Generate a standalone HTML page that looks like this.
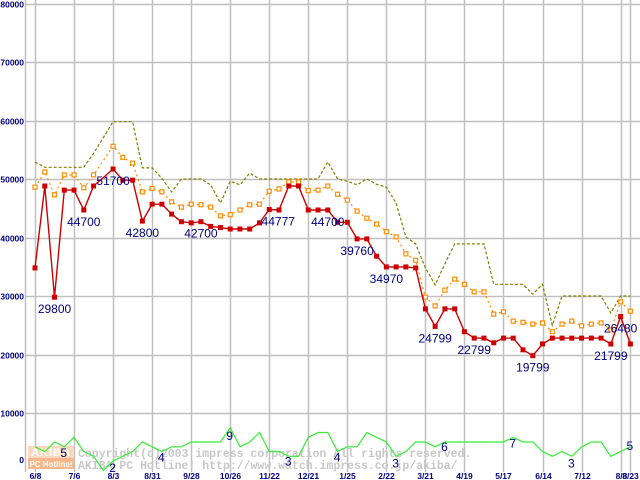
<!DOCTYPE html>
<html><head><meta charset="utf-8"><style>
html,body{margin:0;padding:0;background:#fff;}
svg{display:block;font-family:"Liberation Sans",sans-serif;}
</style></head><body>
<svg id="chart" width="640" height="480" viewBox="0 0 640 480" xmlns="http://www.w3.org/2000/svg">
<rect x="0" y="0" width="640" height="480" fill="#fff"/>
<g id="grid"></g>
<g id="wm">
  <rect x="28" y="446" width="46" height="12" fill="#fbd9bd"/>
  <text x="51" y="456" font-size="11" font-weight="bold" fill="#fff" text-anchor="middle" letter-spacing="1">AKIBA</text>
  <rect x="28" y="458" width="46" height="11" fill="#f8b68a"/>
  <text x="51" y="467" font-size="8" font-weight="bold" fill="#fff" text-anchor="middle">PC Hotline!</text>
  <text x="78" y="457" font-size="11.5" font-family="Liberation Mono,monospace" font-weight="bold" fill="#c8c8c8">Copyright(c)2003 impress corporation All rights reserved.</text>
  <text x="78" y="469" font-size="11.5" font-family="Liberation Mono,monospace" font-weight="bold" fill="#c8c8c8">AKIBA PC Hotline!  http://www.watch.impress.co.jp/akiba/</text>
</g>
<g id="series"></g>
<g id="labels"></g>
</svg>
<script>
const yTicks=[0,10000,20000,30000,40000,50000,60000,70000,80000];
const xTickLabels=["6/8","7/6","8/3","8/31","9/28","10/26","11/22","12/21","1/25","2/22","3/21","4/19","5/17","6/14","7/12","8/8","8/23"];
const xTickIdx=[0,4,8,12,16,20,24,28,32,36,40,44,48,52,56,60,61];
const minPrice=[34800,48800,29800,48100,48100,44700,48800,null,51700,49800,49800,42800,45700,45700,44000,42700,42500,42700,41900,41700,41450,41450,41450,42500,44777,44700,48800,48800,44700,44700,44700,42600,42600,39760,39760,36800,34970,34970,34970,34800,27800,24799,27800,27800,23900,22799,22799,22000,22799,22799,20800,19799,21800,22799,22799,22799,22799,22799,22799,21799,26480,21799];
const avgPrice=[48600,51200,47300,50700,50700,48500,50700,null,55600,53700,52700,47800,48400,47800,46100,45200,45700,45600,45200,43700,43900,44700,45600,45700,47900,48300,49500,49500,48000,48100,48800,47400,46400,44500,43300,42300,41000,40100,37200,36100,29800,28300,31000,32900,32000,30700,30700,26900,27300,25700,25500,25200,25400,23900,25200,25700,24900,25200,25400,24200,29000,27400];
const maxPrice=[52900,52000,52000,52000,52000,52000,54400,null,59800,59800,59800,51900,51900,50100,47800,50000,50000,50000,49000,45900,49600,49000,51000,50000,50000,50000,50000,50000,50000,50000,52900,50000,49600,49000,50000,49100,48600,45900,40100,38900,34800,31900,35500,38900,38900,38900,38900,32000,32000,32000,32000,30300,32000,25000,30000,30000,30000,30000,30000,27100,30000,30000];
const shopCount=[5,4,6,5,7,4,3,0,2,3,4,6,5,4,5,5,6,6,6,6,9,5,6,8,4,4,3,3,7,8,8,4,5,5,8,7,6,3,4,6,6,5,6,6,6,6,6,6,6,7,6,6,4,3,4,3,5,6,6,3,4,5];
const priceLabelIdx=[2,5,8,11,17,24,30,33,36,41,45,51,59,60];
const countLabelIdx=[3,8,13,20,26,31,37,42,49,55,61];
const countLabelDy=[10,11,10,12,9,10,11,9,10,11,3];

const NS="http://www.w3.org/2000/svg";
const X0=25,XR=640,Y0=471.5,PPU=58.5/10000;
function xs(i){return 35+i*9.76;}
function yp(v){return Y0-v*PPU;}
function yc(v){return 470.5-v*4.75;}
function mk(tag,attrs,parent){const e=document.createElementNS(NS,tag);for(const k in attrs)e.setAttribute(k,attrs[k]);parent.appendChild(e);return e;}
const grid=document.getElementById('grid'),ser=document.getElementById('series'),lab=document.getElementById('labels');

yTicks.forEach(function(t){
  const y=Math.round(yp(t))+0.5;
  if(t>0){const l=mk('line',{x1:X0,x2:XR,y1:y,y2:y,stroke:'#c0c0c0','stroke-width':1.5},grid);
  
  }
  const tx=mk('text',{x:24,y:t===0?463:y+3,'font-size':8.5,'font-weight':'bold',fill:'#000080','text-anchor':'end'},grid);
  tx.textContent=String(t);
  
  
});
const ax=mk('line',{x1:X0+0.5,x2:X0+0.5,y1:0,y2:472,stroke:'#c0c0c0','stroke-width':1.5},grid);


xTickIdx.forEach(function(i,k){
  const x=Math.round(xs(i))+0.5;
  const l=mk('line',{x1:x,x2:x,y1:0,y2:472,stroke:'#c0c0c0','stroke-width':1.5},grid);
  
  
  const tx=mk('text',{x:x,y:479,'font-size':8.5,'font-weight':'bold',fill:'#000080','text-anchor':'middle'},grid);
  tx.textContent=xTickLabels[k];
  
  
});

function pathOf(arr,yf){let d='';arr.forEach(function(v,i){if(v===null)return;d+=(d?'L':'M')+xs(i).toFixed(1)+','+yf(v).toFixed(1);});return d;}

const gc=mk('path',{d:pathOf(shopCount,yc),fill:'none',stroke:'#33ee33','stroke-width':1.2},ser);


const mx=mk('path',{d:pathOf(maxPrice,yp),fill:'none',stroke:'#808000','stroke-width':1.2,'stroke-dasharray':'3,2'},ser);


const av=mk('path',{d:pathOf(avgPrice,yp),fill:'none',stroke:'#ff8c00','stroke-width':1.2,'stroke-dasharray':'2,3'},ser);


avgPrice.forEach(function(v,i){if(v===null)return;
  const r=mk('rect',{x:xs(i)-2,y:yp(v)-2,width:4,height:4,fill:'#fff',stroke:'#ff8c00','stroke-width':1.2},ser);
  
  
});
const mn=mk('path',{d:pathOf(minPrice,yp),fill:'none',stroke:'#cc0000','stroke-width':1.4},ser);


minPrice.forEach(function(v,i){if(v===null)return;
  const r=mk('rect',{x:xs(i)-2.5,y:yp(v)-2.5,width:5,height:5,fill:'#cc0000'},ser);
  
  
});
priceLabelIdx.forEach(function(i){
  const t=mk('text',{x:xs(i)+(i===24?9:0),y:yp(minPrice[i])+16,'font-size':12,fill:'#000080','text-anchor':'middle'},lab);
  t.textContent=String(minPrice[i]);
  
  
});
countLabelIdx.forEach(function(i,k){
  const t=mk('text',{x:xs(i)-0.5,y:yc(shopCount[i])+countLabelDy[k],'font-size':12,fill:'#000080','text-anchor':'middle'},lab);
  t.textContent=String(shopCount[i]);
  
  
});
</script>
</body></html>
